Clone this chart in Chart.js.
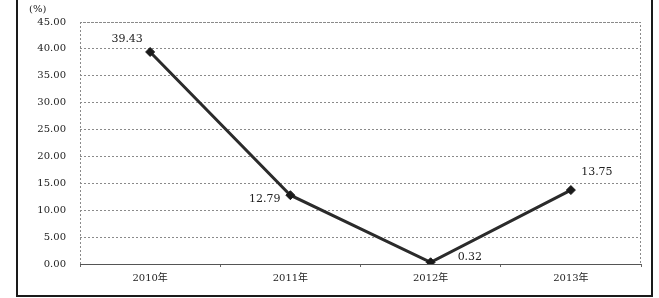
<!DOCTYPE html>
<html>
<head>
<meta charset="utf-8">
<script src="https://cdn.jsdelivr.net/npm/chart.js@4.4.1/dist/chart.umd.min.js"></script>
<style>
  html, body { margin: 0; padding: 0; background: #fff; }
  #wrap { position: relative; width: 659px; height: 298px; overflow: hidden; }
  #frame {
    position: absolute; left: 16px; top: -4px; width: 637px; height: 301px;
    box-sizing: border-box; border: 2px solid #1a1a1a; pointer-events: none;
  }
  canvas { position: absolute; left: 0; top: 0; }
</style>
</head>
<body>
<div id="wrap">
  <canvas id="growth" width="659" height="298"></canvas>
  <div id="frame"></div>
</div>
<script>
// data
var years = ['2010年', '2011年', '2012年', '2013年'];
var growthRate = [39.43, 12.79, 0.32, 13.75];
var yTicks = [0, 5, 10, 15, 20, 25, 30, 35, 40, 45];

var FONT = "'DejaVu Serif', 'Noto Sans CJK SC', serif";

// dotted frame around the plot area + "(%)" unit label
var framePlugin = {
  id: 'plotFrame',
  beforeDatasetsDraw: function (chart) {
    var a = chart.chartArea, c = chart.ctx;
    c.save();
    c.strokeStyle = '#8a8a8a';
    c.lineWidth = 1;
    c.setLineDash([2, 2]);
    c.beginPath();
    c.moveTo(a.left + 0.5, a.bottom);
    c.lineTo(a.left + 0.5, a.top + 0.5);
    c.lineTo(a.right - 0.5, a.top + 0.5);
    c.lineTo(a.right - 0.5, a.bottom);
    c.stroke();
    c.setLineDash([]);
    c.strokeStyle = '#555';
    c.beginPath();
    c.moveTo(a.left, a.bottom + 0.5);
    c.lineTo(a.right, a.bottom + 0.5);
    c.stroke();
    c.restore();
  },
  afterDraw: function (chart) {
    var a = chart.chartArea, c = chart.ctx;
    c.save();
    c.fillStyle = '#222';
    c.font = '10px ' + FONT;
    c.textBaseline = 'middle';
    c.fillText('(%)', a.left - 51, a.top - 13);
    c.restore();
  }
};

// value labels next to each point
var labelPlace = ['aboveLeft', 'left', 'right', 'aboveRight'];
var valuePlugin = {
  id: 'valueLabels',
  afterDatasetsDraw: function (chart) {
    var c = chart.ctx;
    var pts = chart.getDatasetMeta(0).data;
    c.save();
    c.fillStyle = '#222';
    c.font = '11px ' + FONT;
    c.textBaseline = 'middle';
    pts.forEach(function (p, i) {
      var txt = growthRate[i].toFixed(2);
      var x = p.x, y = p.y;
      if (labelPlace[i] === 'aboveLeft') { c.textAlign = 'center'; x -= 23; y -= 13; }
      else if (labelPlace[i] === 'left') { c.textAlign = 'right'; x -= 10; y += 4; }
      else if (labelPlace[i] === 'right') { c.textAlign = 'left'; x += 27; y -= 5; }
      else { c.textAlign = 'center'; x += 26; y -= 18; }
      c.fillText(txt, x, y);
    });
    c.restore();
  }
};

var ctx = document.getElementById('growth').getContext('2d');
var growthChart = new Chart(ctx, {
  type: 'line',
  data: {
    labels: years,
    datasets: [
      {
        data: growthRate,
        borderColor: '#2b2b2b',
        borderWidth: 3,
        backgroundColor: '#1a1a1a',
        pointStyle: 'rectRot',
        pointRadius: 4.5,
        pointBorderWidth: 1,
        pointBorderColor: '#1a1a1a',
        tension: 0,
        fill: false,
      },
    ],
  },
  options: {
    responsive: false,
    animation: false,
    layout: { padding: { top: 22, right: 18, bottom: 0, left: 0 } },
    plugins: {
      legend: { display: false },
      tooltip: { enabled: false },
      title: { display: false },
    },
    scales: {
      x: {
        offset: true,
        afterFit: function (s) { s.height = 34; },
        grid: {
          offset: true,
          drawOnChartArea: false,
          drawTicks: true,
          tickLength: 3,
          color: '#666',
        },
        border: { display: false },
        ticks: {
          color: '#222',
          font: { family: FONT, size: 10 },
          padding: 5,
          maxRotation: 0,
        },
      },
      y: {
        min: 0,
        max: 45,
        afterFit: function (s) { s.width = 80; },
        afterBuildTicks: function (s) {
          s.ticks = yTicks.map(function (v) { return { value: v }; });
        },
        grid: {
          color: function (c) { return c.tick.value === 0 ? 'rgba(0,0,0,0)' : '#8a8a8a'; },
          lineWidth: 1,
          drawTicks: false,
        },
        border: { display: false, dash: [2, 2] },
        ticks: {
          color: '#222',
          font: { family: FONT, size: 10 },
          padding: 14,
          callback: function (v) { return Number(v).toFixed(2); },
        },
      },
    },
  },
  plugins: [framePlugin, valuePlugin],
});
</script>
</body>
</html>
